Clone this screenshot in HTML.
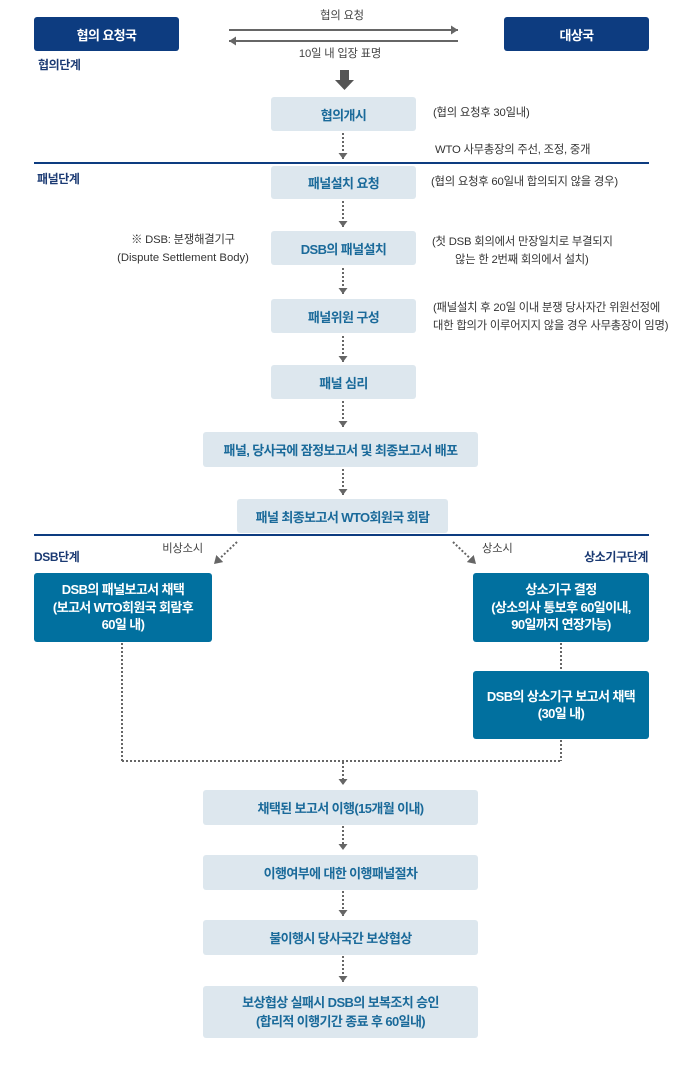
<!DOCTYPE html>
<html lang="ko">
<head>
<meta charset="utf-8">
<style>
  html,body{margin:0;padding:0;background:#fff;}
  body{width:682px;height:1088px;position:relative;overflow:hidden;
    font-family:"Liberation Sans","Noto Sans CJK KR","NanumGothic",sans-serif;}
  .box{position:absolute;display:flex;align-items:center;justify-content:center;text-align:center;
    border-radius:3px;font-weight:700;font-size:13px;letter-spacing:-0.6px;box-sizing:border-box;}
  .navy{background:#0d3c80;color:#fff;}
  .light{background:#dde7ee;color:#1a6a9a;}
  .teal{background:#01709f;color:#fff;line-height:17.5px;}
  .t{position:absolute;white-space:nowrap;font-size:11.3px;color:#333;letter-spacing:-0.2px;line-height:14px;}
  .stage{position:absolute;white-space:nowrap;font-size:12px;font-weight:700;color:#1b3a73;letter-spacing:-0.4px;line-height:14px;}
  .hr{position:absolute;left:34px;width:615px;height:2px;background:#0d3c80;}
  svg{position:absolute;left:0;top:0;}
</style>
</head>
<body>

<svg width="682" height="1088" viewBox="0 0 682 1088">
  <defs>
    <marker id="ah" viewBox="0 0 6 9" refX="6" refY="4.5" markerWidth="6" markerHeight="9" markerUnits="userSpaceOnUse" orient="auto">
      <path d="M0,0 L6,4.5 L0,9 z" fill="#666"/>
    </marker>
    <marker id="ahd" viewBox="0 0 8 10" refX="8" refY="5" markerWidth="8" markerHeight="10" markerUnits="userSpaceOnUse" orient="auto">
      <path d="M0,0 L8,5 L0,10 z" fill="#666"/>
    </marker>
    <marker id="as" viewBox="0 0 7 9" refX="7" refY="4.5" markerWidth="7" markerHeight="9" markerUnits="userSpaceOnUse" orient="auto">
      <path d="M0,0 L7,4.5 L0,9 z" fill="#666"/>
    </marker>
  </defs>

  <!-- top solid arrows -->
  <line x1="229" y1="30" x2="458" y2="30" stroke="#666" stroke-width="2" marker-end="url(#as)"/>
  <line x1="458" y1="41" x2="229" y2="41" stroke="#666" stroke-width="2" marker-end="url(#as)"/>

  <!-- big down arrow -->
  <rect x="340" y="70" width="9" height="11" fill="#555"/>
  <polygon points="335,80 354,80 344.5,90" fill="#555"/>

  <g stroke="#666" stroke-width="2" stroke-dasharray="2 2" fill="none">
    <line x1="343" y1="133" x2="343" y2="159" marker-end="url(#ah)"/>
    <line x1="343" y1="201" x2="343" y2="227" marker-end="url(#ah)"/>
    <line x1="343" y1="268" x2="343" y2="294" marker-end="url(#ah)"/>
    <line x1="343" y1="336" x2="343" y2="362" marker-end="url(#ah)"/>
    <line x1="343" y1="401" x2="343" y2="427" marker-end="url(#ah)"/>
    <line x1="343" y1="469" x2="343" y2="495" marker-end="url(#ah)"/>
    <line x1="343" y1="762" x2="343" y2="785" marker-end="url(#ah)"/>
    <line x1="343" y1="826" x2="343" y2="850" marker-end="url(#ah)"/>
    <line x1="343" y1="891" x2="343" y2="916" marker-end="url(#ah)"/>
    <line x1="343" y1="956" x2="343" y2="982" marker-end="url(#ah)"/>

    <!-- diagonals -->
    <line x1="237" y1="542" x2="214" y2="564" marker-end="url(#ahd)"/>
    <line x1="453" y1="542" x2="476" y2="564" marker-end="url(#ahd)"/>

    <!-- merge lines -->
    <line x1="122" y1="643" x2="122" y2="761"/>
    <line x1="122" y1="761" x2="561" y2="761"/>
    <line x1="561" y1="643" x2="561" y2="671"/>
    <line x1="561" y1="740" x2="561" y2="761"/>
  </g>
</svg>

<!-- top -->
<div class="box navy" style="left:34px;top:17px;width:145px;height:34px;">협의 요청국</div>
<div class="box navy" style="left:504px;top:17px;width:145px;height:34px;">대상국</div>
<div class="t" style="left:292px;top:9px;width:100px;text-align:center;color:#444;">협의 요청</div>
<div class="t" style="left:280px;top:47px;width:120px;text-align:center;color:#444;">10일 내 입장 표명</div>
<div class="stage" style="left:38px;top:58px;">협의단계</div>

<div class="box light" style="left:271px;top:97px;width:145px;height:34px;">협의개시</div>
<div class="t" style="left:433px;top:106px;">(협의 요청후 30일내)</div>
<div class="t" style="left:435px;top:143px;">WTO 사무총장의 주선, 조정, 중개</div>

<div class="hr" style="top:162px;"></div>
<div class="stage" style="left:37px;top:172px;">패널단계</div>

<div class="box light" style="left:271px;top:166px;width:145px;height:33px;">패널설치 요청</div>
<div class="t" style="left:431px;top:175px;">(협의 요청후 60일내 합의되지 않을 경우)</div>

<div class="box light" style="left:271px;top:231px;width:145px;height:34px;">DSB의 패널설치</div>
<div class="t" style="left:103px;top:233px;width:160px;text-align:center;">※ DSB: 분쟁해결기구</div>
<div class="t" style="left:93px;top:251px;width:180px;text-align:center;letter-spacing:0;">(Dispute Settlement Body)</div>
<div class="t" style="left:432px;top:235px;">(첫 DSB 회의에서 만장일치로 부결되지</div>
<div class="t" style="left:455px;top:253px;">않는 한 2번째 회의에서 설치)</div>

<div class="box light" style="left:271px;top:299px;width:145px;height:34px;">패널위원 구성</div>
<div class="t" style="left:433px;top:301px;">(패널설치 후 20일 이내 분쟁 당사자간 위원선정에</div>
<div class="t" style="left:433px;top:319px;">대한 합의가 이루어지지 않을 경우 사무총장이 임명)</div>

<div class="box light" style="left:271px;top:365px;width:145px;height:34px;">패널 심리</div>

<div class="box light" style="left:203px;top:432px;width:275px;height:35px;">패널, 당사국에 잠정보고서 및 최종보고서 배포</div>
<div class="box light" style="left:237px;top:499px;width:211px;height:34px;">패널 최종보고서 WTO회원국 회람</div>

<div class="hr" style="top:534px;"></div>
<div class="t" style="left:145px;top:542px;width:58px;text-align:right;color:#444;">비상소시</div>
<div class="t" style="left:482px;top:542px;color:#444;">상소시</div>
<div class="stage" style="left:34px;top:550px;">DSB단계</div>
<div class="stage" style="left:549px;top:550px;width:99px;text-align:right;">상소기구단계</div>

<div class="box teal" style="left:34px;top:573px;width:178px;height:69px;">DSB의 패널보고서 채택<br>(보고서 WTO회원국 회람후<br>60일 내)</div>
<div class="box teal" style="left:473px;top:573px;width:176px;height:69px;">상소기구 결정<br>(상소의사 통보후 60일이내,<br>90일까지 연장가능)</div>
<div class="box teal" style="left:473px;top:671px;width:176px;height:68px;">DSB의 상소기구 보고서 채택<br>(30일 내)</div>

<div class="box light" style="left:203px;top:790px;width:275px;height:35px;">채택된 보고서 이행(15개월 이내)</div>
<div class="box light" style="left:203px;top:855px;width:275px;height:35px;">이행여부에 대한 이행패널절차</div>
<div class="box light" style="left:203px;top:920px;width:275px;height:35px;">불이행시 당사국간 보상협상</div>
<div class="box light" style="left:203px;top:986px;width:275px;height:52px;line-height:19px;">보상협상 실패시 DSB의 보복조치 승인<br>(합리적 이행기간 종료 후 60일내)</div>

</body>
</html>
